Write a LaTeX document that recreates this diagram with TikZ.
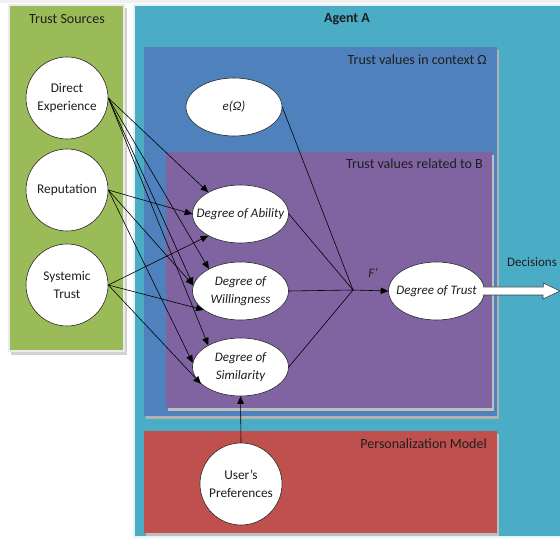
\documentclass[tikz,border=0pt]{standalone}
\usepackage{fontspec}
\setmainfont{Carlito}
\usetikzlibrary{shapes.geometric,arrows.meta}
\definecolor{cgreen}{HTML}{9BBB59}
\definecolor{ccyan}{HTML}{4BACC6}
\definecolor{cblue}{HTML}{4F81BD}
\definecolor{cpurple}{HTML}{8064A2}
\definecolor{cred}{HTML}{C0504D}
\definecolor{ctext}{HTML}{1E1E1E}
\tikzset{
  src/.style={circle,draw=black!85,fill=white,line width=0.6pt,minimum size=82pt,inner sep=0pt,align=center,text=ctext,font=\fontsize{13.3}{17.5}\selectfont},
  val/.style={ellipse,draw=black!85,fill=white,line width=0.6pt,minimum width=96pt,minimum height=58pt,inner ysep=0pt,inner xsep=-10pt,align=center,text=ctext,font=\fontsize{13}{17.5}\selectfont\itshape},
  conn/.style={draw=black,line width=0.6pt},
  arr/.style={conn,-{Triangle[length=7.5pt,width=6.5pt]}},
  ttl/.style={text=ctext,font=\fontsize{14}{17}\selectfont,inner sep=0pt}
}
\begin{document}
\begin{tikzpicture}[x=1pt,y=-1pt]
\useasboundingbox (0,0) rectangle (560,540);
\fill[white] (0,0) rectangle (560,540);
\fill[black!6] (0,0) rectangle (560,3);
% Trust sources panel
\fill[black!18] (11,8) rectangle (127,355);
\filldraw[fill=cgreen,draw=white!92!black,line width=1.5pt] (9,5) rectangle (124,351);
% Agent A panel
\filldraw[fill=ccyan,draw=white!85!ccyan,line width=1.2pt] (134,5) rectangle (562,537);
% Trust values in context
\fill[black!30] (146,50) rectangle (499,419);
\fill[cblue] (144,47) rectangle (497,416);
% Trust values related to B
\fill[black!25] (168,155) rectangle (494,411);
\fill[cpurple] (166,152) rectangle (492,408);
% Personalization model
\fill[black!25] (146,434) rectangle (499,536);
\fill[cred] (144,431) rectangle (497,533);

% titles
\node[ttl] (tTS) at (67,19) {Trust Sources};
\node[ttl,font=\fontsize{14}{17}\selectfont\bfseries] (tAA) at (347,19) {Agent A};
\node[ttl,anchor=east] (tCtx) at (487,60) {Trust values in context Ω};
\node[ttl,anchor=east] (tRel) at (483,164) {Trust values related to B};
\node[ttl,anchor=east] (tPM) at (487,444) {Personalization Model};
\node[ttl,font=\fontsize{13}{16}\selectfont] (tDec) at (532,262) {Decisions};
\node[ttl,font=\fontsize{13}{16}\selectfont\itshape] (tF) at (373,273) {F’};

% source nodes
\node[src] (DE) at (67,98) {Direct\\Experience};
\node[src] (Rep) at (67,190) {Reputation};
\node[src] (Sys) at (67,285) {Systemic\\Trust};
\node[src] (UP) at (241,484) {User’s\\Preferences};

% value nodes
\node[val] (E) at (234,107) {e(Ω)};
\node[val] (Ab) at (240.5,214) {Degree of Ability};
\node[val] (Wi) at (240.5,291) {Degree of\\Willingness};
\node[val] (Si) at (240.5,367) {Degree of\\Similarity};
\node[val] (Tr) at (436.5,291) {Degree of Trust};

\coordinate (J) at (353,290);
\coordinate (dtip) at (560,291);

% source connectors
\draw[arr] (DE.east) -- (Ab.146);
\draw[arr] (DE.east) -- (Wi.145);
\draw[arr] (DE.east) -- (Wi.173);
\draw[arr] (DE.east) -- (Si.146);
\draw[arr] (Rep.east) -- (Ab.180);
\draw[arr] (Rep.east) -- (Wi.173);
\draw[arr] (Rep.east) -- (Si.175);
\draw[arr] (Sys.east) -- (Ab.214);
\draw[arr] (Sys.east) -- (Wi.207);
\draw[arr] (Sys.east) -- (Si.203);

% aggregation
\draw[conn] (E.east) -- (J);
\draw[conn] (Ab.east) -- (J);
\draw[conn] (Wi.east) -- (J);
\draw[conn] (Si.east) -- (J);
\draw[arr] (J) -- (Tr.west);
\draw[arr] (UP.north) -- (Si.south);

% decision arrow
\draw[fill=white,draw=black!75,line width=0.6pt]
  ([xshift=-2pt]Tr.east) ++(0,-4) -- ++(60.5,0) -- ++(0,-4) -- (dtip)
  -- ++(-17,8) -- ++(0,-4) -- ++(-60.5,0);
\end{tikzpicture}
\end{document}
